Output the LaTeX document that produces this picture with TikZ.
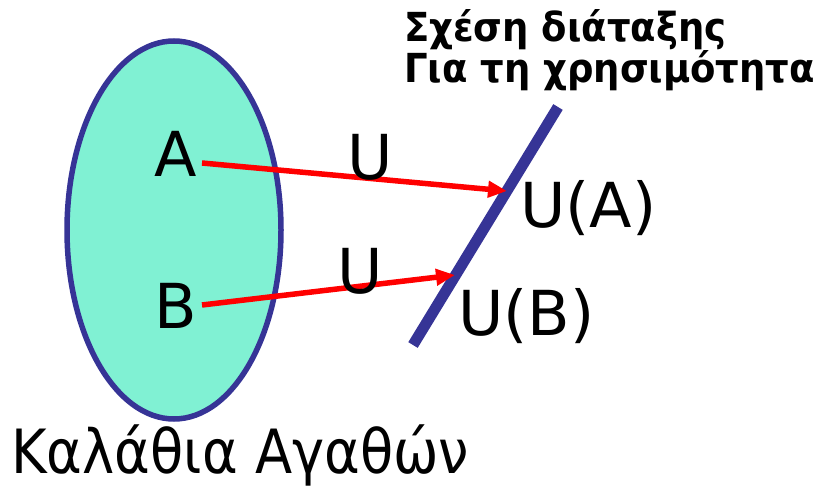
\documentclass[tikz,border=0pt]{standalone}
\usepackage{fontspec}
\setmainfont{DejaVu Sans}
\newfontfamily\narrowfont[FakeStretch=0.89]{DejaVu Sans}
\newfontfamily\titlefont[FakeStretch=0.925]{DejaVu Sans Bold}
\usetikzlibrary{arrows.meta}
\definecolor{setfill}{RGB}{128,241,211}
\definecolor{setblue}{RGB}{54,52,150}
\definecolor{arrred}{RGB}{255,0,0}
\tikzset{
  lbl/.style={inner sep=0pt, font=\fontsize{62}{62}\selectfont},
  title/.style={inner sep=0pt, font=\fontsize{40}{41}\selectfont\titlefont},
  maparrow/.style={draw=arrred, line width=5.5pt, -{Triangle[length=19pt,width=16pt]}},
}
\begin{document}
\begin{tikzpicture}[x=1pt,y=-1pt]
\useasboundingbox (0,0) rectangle (818,486);
\draw[setblue, line width=5.5pt, fill=setfill] (174,230) ellipse [x radius=107, y radius=189];
\node[lbl, anchor=base] (A) at (176,177) {A};
\node[lbl, anchor=base] (B) at (176,328) {B};
\coordinate (a0) at (202,163);
\coordinate (b0) at (202,305);
\coordinate (lineBot) at (413,345);
\coordinate (lineTop) at (558,107);
\draw[setblue, line width=11pt] (lineBot) -- (lineTop);
\coordinate (ua) at (507,191);
\coordinate (ub) at (455,275);
\draw[maparrow] (a0) -- (ua);
\draw[maparrow] (b0) -- (ub);
\node[lbl, anchor=base] (U1) at (370,180) {U};
\node[lbl, anchor=base] (U2) at (360,293) {U};
\node[lbl, anchor=base west] (UA) at (520,228) {U(A)};
\node[lbl, anchor=base west] (UB) at (458,335) {U(B)};
\node[lbl, anchor=base west, font=\fontsize{61}{61}\narrowfont] (basket) at (11,473) {Καλάθια Αγαθών};
\node[title, anchor=base west] (t1) at (404,42) {Σχέση διάταξης};
\node[title, anchor=base west] (t2) at (404,83) {Για τη χρησιμότητα};
\end{tikzpicture}
\end{document}
